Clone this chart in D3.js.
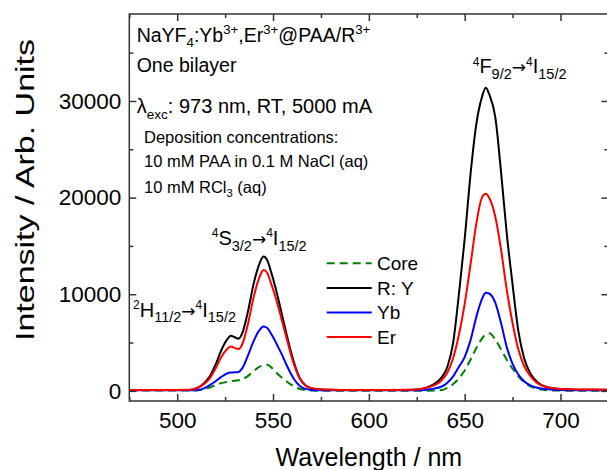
<!DOCTYPE html>
<html><head><meta charset="utf-8">
<script src="https://cdn.jsdelivr.net/npm/d3@7"></script>
<style>html,body{margin:0;padding:0;background:#fff;overflow:hidden}svg{display:block}</style>
</head><body>
<script>
const wavelengths = [475,480,485,490,495,500,505,508,511,514,517,520,523,526,528,530,532,534,537,540,543,545,547,549,551,553,555,557,559,561,564,567,570,575,580,590,600,610,620,625,630,634,638,641,644,647,650,653,656,659,661,663,666,669,672,675,678,681,684,688,692,697,705,715,725];
const seriesNames = ["Core","R: Y","Yb","Er"];
const coreVals = [30,30,30,30,30,30,30,40,60,150,350,600,800,930,1000,1050,1100,1200,1550,2050,2500,2650,2700,2450,2050,1650,1300,1000,700,450,200,80,30,20,20,20,20,20,20,20,20,30,80,300,700,1300,2100,3200,4400,5400,5850,5950,5300,4300,3200,2300,1500,900,500,200,80,30,20,20,20];
const ryVals = [80,80,80,80,80,80,90,150,350,800,1500,2700,4200,5300,5700,5550,5400,6000,8300,11200,13200,13900,13500,12300,10900,9300,7600,5900,4300,2900,1300,550,280,150,110,90,80,80,100,150,330,700,1400,2500,5000,10000,15700,22300,27500,30400,31370,30600,28300,22600,16200,11000,6200,3400,1900,900,450,250,150,120,110];
const ybVals = [50,50,50,50,50,50,50,50,90,250,600,1000,1450,1800,1900,1920,1960,2350,3700,5200,6300,6650,6500,5900,5200,4400,3600,2700,1900,1200,500,200,100,60,50,50,50,50,50,60,120,230,450,850,1500,2500,3500,5200,7600,9500,10150,10050,9100,7000,4500,2800,1700,1000,600,330,180,110,70,60,60];
const erVals = [100,100,100,100,100,100,110,150,320,700,1300,2300,3500,4300,4580,4450,4330,4850,7000,9800,11800,12500,12200,11100,9900,8500,7000,5500,4000,2700,1250,550,280,160,120,100,100,100,110,140,290,560,1100,1900,3400,5800,9000,13000,17200,20000,20400,19900,18000,14600,10400,7000,4300,2600,1600,800,420,240,160,130,120];
const xTicks = [500,550,600,650,700];
const xMinor = [475,525,575,625,675,725];
const yTicks = [0,10000,20000,30000];
const yMinor = [5000,15000,25000,35000];

const W = 607, H = 470;
const M = {left:129.3, top:14, right:608.4, bottom:401};
const FONT = "'Liberation Sans', Arial, Helvetica, sans-serif";

const svg = d3.select("body").append("svg").attr("width",W).attr("height",H)
  .style("font-family",FONT);

const x = d3.scaleLinear().domain([475,725]).range([M.left,M.right]);
const y = d3.scaleLinear().domain([-1050,39000]).range([M.bottom,M.top]);

svg.append("defs").append("clipPath").attr("id","clip")
  .append("rect").attr("x",M.left).attr("y",M.top).attr("width",M.right-M.left).attr("height",M.bottom-M.top);

const series = [
  {name:"Core", vals:coreVals, color:"#008000", dash:"8,5"},
  {name:"R: Y", vals:ryVals, color:"#000000", dash:null},
  {name:"Yb", vals:ybVals, color:"#0000ff", dash:null},
  {name:"Er", vals:erVals, color:"#ff0000", dash:null}
];

const line = d3.line().x(d=>x(d[0])).y(d=>y(d[1])).curve(d3.curveMonotoneX);
const gl = svg.append("g").attr("clip-path","url(#clip)");
series.forEach(s=>{
  gl.append("path").datum(wavelengths.map((w,i)=>[w,s.vals[i]]))
    .attr("d",line).attr("fill","none").attr("stroke",s.color)
    .attr("stroke-width",2).attr("stroke-dasharray",s.dash);
});

// axes
const axCol = "#333";
function styleAxis(g){
  g.select(".domain").remove();
  g.selectAll(".tick line").attr("stroke",axCol).attr("stroke-width",1.5);
  g.selectAll(".tick text").attr("fill","#000").style("font-size","22.5px").style("font-family",FONT);
}
const TL = 7, TM = 4;
svg.append("g").attr("transform",`translate(0,${M.bottom})`)
  .call(d3.axisTop(x).tickValues(xTicks).tickSize(TL).tickFormat(""))
  .call(styleAxis);
svg.append("g").attr("transform",`translate(0,${M.bottom})`)
  .call(d3.axisTop(x).tickValues(xMinor).tickSize(TM).tickFormat(""))
  .call(styleAxis);
svg.append("g").attr("transform",`translate(0,${M.bottom})`)
  .call(d3.axisBottom(x).tickValues(xTicks).tickSize(0).tickPadding(11).tickFormat(d3.format("d")))
  .call(styleAxis);
svg.append("g").attr("transform",`translate(0,${M.top})`)
  .call(d3.axisBottom(x).tickValues(xTicks).tickSize(TL).tickFormat(""))
  .call(styleAxis);
svg.append("g").attr("transform",`translate(0,${M.top})`)
  .call(d3.axisBottom(x).tickValues(xMinor).tickSize(TM).tickFormat(""))
  .call(styleAxis);
svg.append("g").attr("transform",`translate(${M.left},0)`)
  .call(d3.axisRight(y).tickValues(yTicks).tickSize(TL).tickFormat(""))
  .call(styleAxis);
svg.append("g").attr("transform",`translate(${M.left},0)`)
  .call(d3.axisRight(y).tickValues(yMinor).tickSize(TM).tickFormat(""))
  .call(styleAxis);
svg.append("g").attr("transform",`translate(${M.left},0)`)
  .call(d3.axisLeft(y).tickValues(yTicks).tickSize(0).tickPadding(8).tickFormat(d3.format("d")))
  .call(styleAxis);
svg.append("g").attr("transform",`translate(${M.right},0)`)
  .call(d3.axisLeft(y).tickValues(yTicks).tickSize(TL).tickFormat(""))
  .call(styleAxis);
svg.append("g").attr("transform",`translate(${M.right},0)`)
  .call(d3.axisLeft(y).tickValues(yMinor).tickSize(TM).tickFormat(""))
  .call(styleAxis);

// frame
svg.append("rect").attr("x",M.left).attr("y",M.top).attr("width",M.right-M.left).attr("height",M.bottom-M.top)
  .attr("fill","none").attr("stroke",axCol).attr("stroke-width",1.5);

// axis titles
svg.append("text").attr("x",(M.left+M.right)/2).attr("y",466).attr("text-anchor","middle")
  .style("font-size","25px").text("Wavelength / nm");
svg.append("text").attr("transform","translate(34,190) rotate(-90)").attr("text-anchor","middle")
  .attr("textLength",302).attr("lengthAdjust","spacingAndGlyphs")
  .style("font-size","26px").text("Intensity / Arb. Units");

// rich text helper
function rich(xp, yp, parts, size, anchor){
  const t = svg.append("text").attr("x",xp).attr("y",yp).style("font-size",size+"px")
    .attr("text-anchor",anchor||"start");
  let off = 0;
  parts.forEach(([str,type,fsz,fam])=>{
    let target = 0, fs = size;
    if(type==="sup"){ target = -size*0.38; fs = size*0.68; }
    if(type==="sub"){ target = size*0.28; fs = size*0.68; }
    if(fsz) fs = fsz;
    const ts = t.append("tspan").attr("dy",target-off).style("font-size",fs+"px").text(str);
    if(fam) ts.style("font-family",fam);
    off = target;
  });
  return t;
}

rich(136.7,41.7,[["NaYF","n"],["4","sub"],[":Yb","n"],["3+","sup"],[",Er","n"],["3+","sup"],["@PAA/R","n"],["3+","sup"]],19.5);
rich(136.7,71.7,[["One bilayer","n"]],19.5);
rich(136.7,113.3,[["λ","n"],["exc","sub"],[": 973 nm, RT, 5000 mA","n"]],20);
rich(144,142.7,[["Deposition concentrations:","n"]],16.5);
rich(144,166.7,[["10 mM PAA in 0.1 M NaCl (aq)","n"]],16.5);
rich(144,192.7,[["10 mM RCl","n"],["3","sub"],[" (aq)","n"]],16.5);

// peak labels
const ARROW_FONT = "'DejaVu Sans', sans-serif";
function peakParts(sup1, L, sub1){
  return [[sup1,"sup",12],[L,"n"],[sub1,"sub",14.5],["→","n",17,ARROW_FONT],["4","sup",12],["I","n"],["15/2","sub",14.5]];
}
rich(211.7,245,peakParts("4","S","3/2"),20);
rich(133,316.7,peakParts("2","H","11/2"),20);
rich(472.7,73.3,peakParts("4","F","9/2"),20);

// legend
const lg = svg.append("g");
const ly0 = 263.3, ldy = 24.6;
series.forEach((s,i)=>{
  const yy = ly0 + i*ldy;
  lg.append("line").attr("x1",326.7).attr("x2",371.7).attr("y1",yy).attr("y2",yy)
    .attr("stroke",s.color).attr("stroke-width",2).attr("stroke-dasharray",s.dash);
  lg.append("text").attr("x",377).attr("y",yy).attr("dy","0.35em").style("font-size","19px").text(s.name);
});
</script>
</body></html>
